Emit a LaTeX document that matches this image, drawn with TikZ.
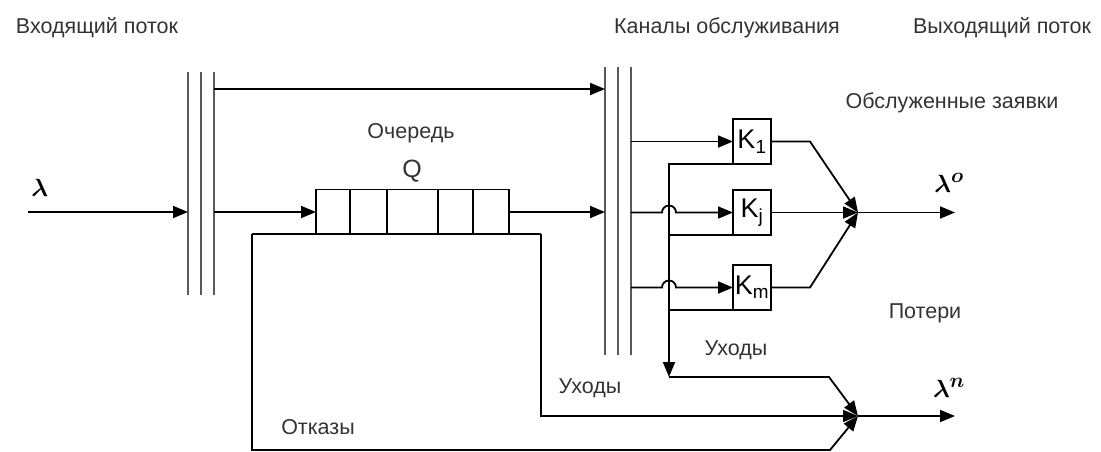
\documentclass[tikz,border=0pt]{standalone}
\usepackage{amsmath,amssymb}
\usepackage{fontspec}
\setmainfont{Liberation Sans}
\usetikzlibrary{positioning,arrows.meta,calc}
\newcommand{\lamb}[1]{$\boldsymbol{\lambda}^{\boldsymbol{#1}}$}

\begin{document}
\begin{tikzpicture}[x=1pt,y=-1pt,line width=1.8pt,
  font=\fontsize{21.5}{25}\selectfont,
  bx/.style={draw,inner sep=0pt,outer sep=0pt,minimum height=45pt},
  kx/.style={bx,minimum width=38pt,font=\fontsize{27}{30}\selectfont},
  ar/.style={-{Triangle[length=15pt,width=12pt]}},
  bar/.style={draw=black!65,line width=2pt},
  lbl/.style={text=black!80,inner sep=0pt},
  lm/.style={inner sep=0pt,font=\fontsize{32}{34}\selectfont}]
\useasboundingbox (0,0) rectangle (1101,451);
% headings
\node[lbl] (hin) at (97,28) {Входящий поток};
\node[lbl] (hch) at (727,28) {Каналы обслуживания};
\node[lbl] (hout) at (1002,28) {Выходящий поток};
\node[lbl] (hsrv) at (952,103) {Обслуженные заявки};
\node[lbl] (hlost) at (925,313) {Потери};
% bars
\draw[bar] (188,72) -- (188,295);
\draw[bar] (201,72) -- (201,295);
\draw[bar] (214,72) -- (214,295);
\draw[bar] (605,67) -- (605,355);
\draw[bar] (618,67) -- (618,355);
\draw[bar] (631,67) -- (631,355);
% queue
\node[bx,minimum width=34pt] (q1) at (333,212) {};
\node[bx,minimum width=37pt,right=0pt of q1] (q2) {};
\node[bx,minimum width=51pt,right=0pt of q2] (q3) {};
\node[bx,minimum width=35pt,right=0pt of q3] (q4) {};
\node[bx,minimum width=36pt,right=0pt of q4] (q5) {};
\node[lbl] (qname) at (411,133) {Очередь};
\node[lbl,font=\fontsize{25}{28}\selectfont] (qq) at (412,171) {Q};
% channels
\node[kx] (k1) at (752,141.5) {K\textsubscript{1}};
\node[kx] (kj) at (752,212.5) {K\textsubscript{j}};
\node[kx] (km) at (752,287.5) {K\textsubscript{m}};
% points
\coordinate (in) at (28,212);
\coordinate (bl) at (188,212);
\coordinate (rl) at (252,234);
\coordinate (rr) at (541,234);
\coordinate (ux) at (669,377);
\coordinate (mo) at (858,212.5);
\coordinate (mn) at (858,416);
\coordinate (oo) at (955,212.5);
\coordinate (on) at (955,416);
\node[lm] (lin) at (40,188) {\lamb{}};
\node[lm] (lo) at (949,183) {\lamb{o}};
\node[lm] (ln) at (949,388) {\lamb{n}};
% flows
\draw[ar] (in) -- (bl);
\draw[ar] (214,89) -- (605,89);
\draw[ar] (214,212) -- (q1.west);
\draw[ar] (q5.east) -- (605,212);
\draw[ar] (631,141.5) -- (k1.west);
\draw[ar] (631,212.5) -- (662,212.5) arc[start angle=180,end angle=360,radius=7] -- (kj.west);
\draw[ar] (631,287.5) -- (662,287.5) arc[start angle=180,end angle=360,radius=7] -- (km.west);
\draw[ar] (k1.south west) -| (ux);
\draw (kj.south west) -- (kj.south west -| ux);
\draw (km.south west) -- (km.south west -| ux);
\draw[ar] (k1.east) -- (810,141.5) -- (mo);
\draw[ar] (kj.east) -- (mo);
\draw[ar] (km.east) -- (810,287.5) -- (mo);
\draw[ar] (mo) -- (oo);
\draw (rl) -- (rr);
\draw[ar] (rr) |- (mn);
\draw[ar] (rl) -- (252,450) -- (830,450) -- (mn);
\draw[ar] (ux) -- (829,377) -- (mn);
\draw[ar] (mn) -- (on);
\node[lbl] (ux1) at (736,350) {Уходы};
\node[lbl] (ux2) at (590,388) {Уходы};
\node[lbl] (otk) at (318,427) {Отказы};
\end{tikzpicture}
\end{document}
